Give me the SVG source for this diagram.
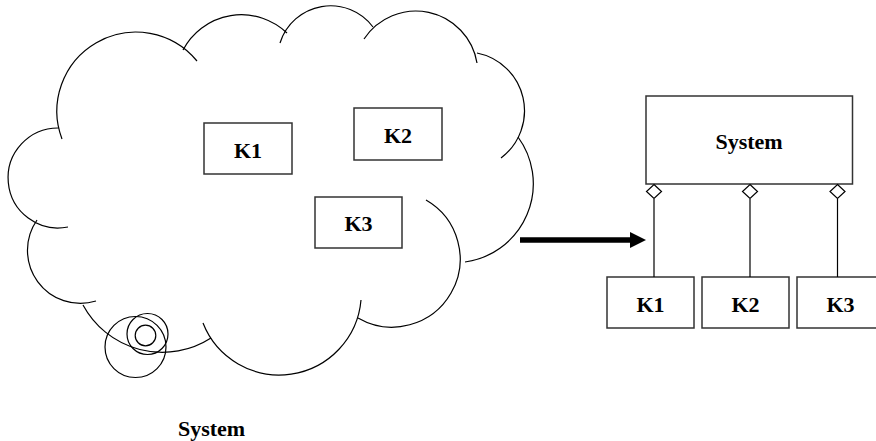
<svg xmlns="http://www.w3.org/2000/svg" width="876" height="441" viewBox="0 0 876 441">
<style>
.cl{fill:none;stroke:#000;stroke-width:1.2}
.bx{fill:#fff;stroke:#333;stroke-width:1.5}
.t{font-family:"Liberation Serif",serif;font-weight:bold;font-size:22px;fill:#000;text-anchor:middle}
.ln{fill:none;stroke:#000;stroke-width:1.2}
.dm{fill:#fff;stroke:#000;stroke-width:1.2}
</style>
<rect width="876" height="441" fill="#fff"/>
<g id="cloud">
<path class="cl" d="M62,139 A79,79 0 0 1 197,61"/>
<path class="cl" d="M59,128 A50,50 0 1 0 68,227"/>
<path class="cl" d="M37,220 A53,53 0 0 0 96,301"/>
<path class="cl" d="M83,305 A90,90 0 0 0 211,338"/>
<path class="cl" d="M203,323 A82,82 0 0 0 361,300"/>
<path class="cl" d="M426,200 A68,68 0 1 1 358,318"/>
<path class="cl" d="M518,137 A79,79 0 0 1 465,262"/>
<path class="cl" d="M477,53 A59,59 0 0 1 501,158"/>
<path class="cl" d="M364,39 A62,62 0 0 1 477,63"/>
<path class="cl" d="M280,43 A53,53 0 0 1 373,27"/>
<path class="cl" d="M183,50 A66,66 0 0 1 287,33"/>
<circle class="cl" cx="135.5" cy="347" r="30.5"/>
<circle class="cl" cx="147.5" cy="334" r="20.5"/>
<circle class="cl" cx="145.5" cy="335.5" r="10.3"/>
</g>
<g id="cloud-k1"><rect class="bx" x="204" y="123" width="88" height="51"/><text class="t" x="248" y="158">K1</text></g>
<g id="cloud-k2"><rect class="bx" x="354" y="108" width="88" height="52"/><text class="t" x="398" y="143">K2</text></g>
<g id="cloud-k3"><rect class="bx" x="315" y="197" width="87" height="51"/><text class="t" x="358.5" y="231">K3</text></g>
<g id="cloud-label"><text class="t" x="211.5" y="436">System</text></g>
<g id="system"><rect class="bx" x="646" y="96" width="206.5" height="88"/><text class="t" x="749" y="148.5">System</text></g>
<g id="k1"><rect class="bx" x="607" y="277" width="87" height="51"/><text class="t" x="650.5" y="312">K1</text></g>
<g id="k2"><rect class="bx" x="702" y="277" width="87" height="51"/><text class="t" x="745.5" y="312">K2</text></g>
<g id="k3"><rect class="bx" x="797" y="277" width="87" height="51"/><text class="t" x="840.5" y="312">K3</text></g>
<g id="connectors">
<line class="ln" x1="654" y1="199" x2="654" y2="277"/>
<line class="ln" x1="750" y1="199" x2="750" y2="277"/>
<line class="ln" x1="837.5" y1="199" x2="837.5" y2="277"/>
<path class="dm" d="M654,184.5 L661.5,191.5 L654,198.5 L646.5,191.5 Z"/>
<path class="dm" d="M750,184.5 L757.5,191.5 L750,198.5 L742.5,191.5 Z"/>
<path class="dm" d="M837.5,184.5 L845,191.5 L837.5,198.5 L830,191.5 Z"/>
<line x1="520" y1="240" x2="632" y2="240" stroke="#000" stroke-width="5.5"/>
<path d="M630,232 L646,240 L630,248 Z" fill="#000"/>
</g>
</svg>
